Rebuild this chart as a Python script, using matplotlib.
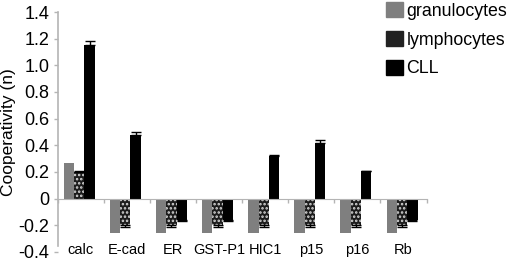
import numpy as np
import matplotlib
matplotlib.use('Agg')
import matplotlib.pyplot as plt
import matplotlib.patches as mpatches

plt.rcParams['font.family'] = ['Liberation Sans', 'DejaVu Sans']
plt.rcParams['hatch.linewidth'] = 1.2

genes = ['calc', 'E-cad', 'ER', 'GST-P1', 'HIC1', 'p15', 'p16', 'Rb']
granulocytes = [0.27, -0.26, -0.26, -0.26, -0.26, -0.26, -0.26, -0.26]
lymphocytes = [0.20, -0.195, -0.195, -0.195, -0.195, -0.195, -0.195, -0.195]
lymph_err = [0.01, 0.02, 0.02, 0.02, 0.02, 0.02, 0.02, 0.02]
cll = [1.15, 0.48, -0.16, -0.16, 0.32, 0.42, 0.205, -0.16]
cll_err = [0.035, 0.02, 0.01, 0.01, 0.01, 0.02, 0.005, 0.005]
yticks = [-0.4, -0.2, 0, 0.2, 0.4, 0.6, 0.8, 1.0, 1.2, 1.4]
ytick_labels = ['-0.4', '-0.2', '0', '0.2', '0.4', '0.6', '0.8', '1.0', '1.2', '1.4']

AXIS_GREY = '#b4b4b4'


def one_sided(vals, errs):
    vals = np.asarray(vals)
    errs = np.asarray(errs)
    lower = np.where(vals < 0, errs, 0)
    upper = np.where(vals >= 0, errs, 0)
    return [lower, upper]


fig = plt.figure(figsize=(5.08, 2.62), dpi=100)
ax = fig.add_axes([0.1132, 10 / 262, 0.7264, 240 / 262])

x = np.arange(len(genes)) - 0.03
w = 0.224

ax.bar(x - w, granulocytes, w, color='#7f7f7f', linewidth=0, zorder=2)
ax.bar(x, lymphocytes, w, color='#1c1c1c', edgecolor='#d8d8d8', linewidth=0,
       hatch='....', zorder=2)
ax.errorbar(x, lymphocytes, yerr=one_sided(lymphocytes, lymph_err), fmt='none',
            ecolor='black', elinewidth=1, capsize=3.5, capthick=1, zorder=3)
ax.bar(x + w, cll, w, color='black', linewidth=0, zorder=2)
ax.errorbar(x + w, cll, yerr=one_sided(cll, cll_err), fmt='none',
            ecolor='black', elinewidth=1, capsize=3.5, capthick=1, zorder=3)

ax.set_xlim(-0.5, len(genes) - 0.5)
ax.set_ylim(-0.4, 1.4)
ax.set_yticks(yticks)
ax.set_yticklabels(ytick_labels, fontsize=13)
ax.set_ylabel('Cooperativity (n)', fontsize=12.5, labelpad=2)

# category dividers along the zero line
ax.set_xticks(np.arange(len(genes) + 1) - 0.5)
ax.set_xticklabels([])
ax.tick_params(axis='x', direction='out', length=3, color=AXIS_GREY, width=1)
ax.tick_params(axis='y', direction='out', length=3, color=AXIS_GREY, width=1, pad=3)
for xi, g in zip(np.arange(len(genes)), genes):
    ax.text(xi, -0.385, g, ha='center', va='center', fontsize=10.5)

ax.spines['top'].set_visible(False)
ax.spines['right'].set_visible(False)
ax.spines['bottom'].set_position(('data', 0))
ax.spines['bottom'].set_color(AXIS_GREY)
ax.spines['left'].set_color(AXIS_GREY)
ax.spines['left'].set_linewidth(1.2)
ax.spines['left'].set_bounds(-0.355, 1.4)

handles = [mpatches.Patch(color='#7f7f7f'),
           mpatches.Patch(color='#222222'),
           mpatches.Patch(color='black')]
fig.legend(handles, ['granulocytes', 'lymphocytes', 'CLL'],
           loc='upper left', bbox_to_anchor=(386 / 508, 1 - 2 / 262),
           frameon=False, fontsize=12.8, handlelength=0.95, handleheight=0.95,
           handletextpad=0.2, labelspacing=0.62, borderpad=0, borderaxespad=0)

fig.savefig('out.png', dpi=100)
